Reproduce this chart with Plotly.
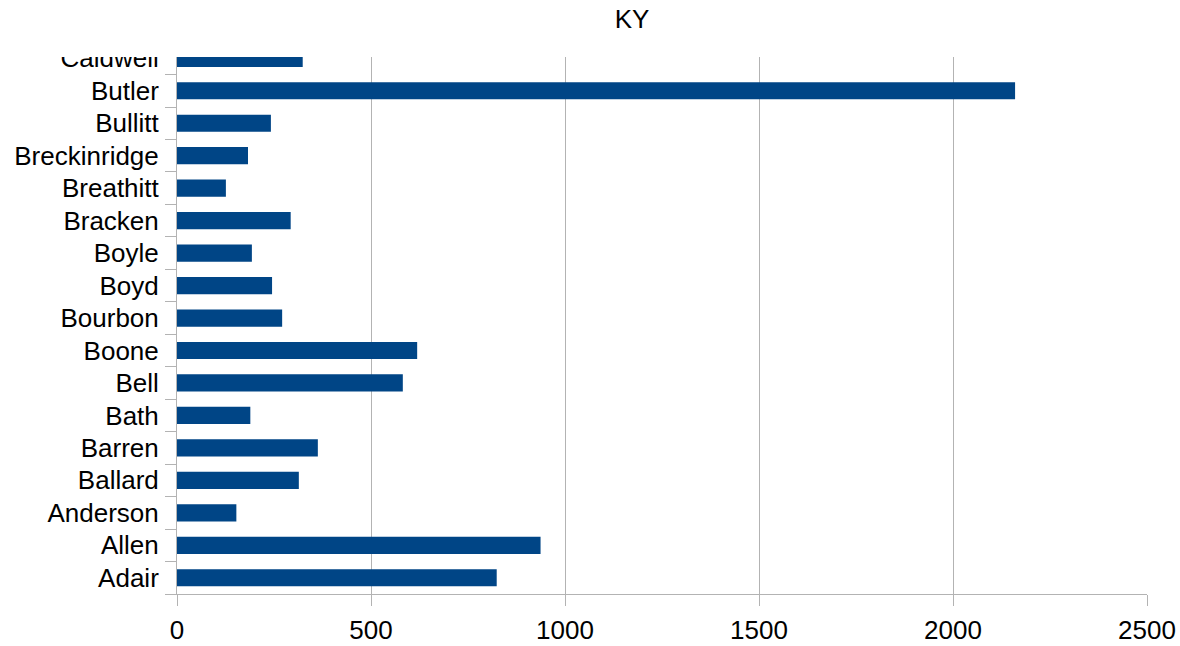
import plotly.graph_objects as go

counties = ["Adair", "Allen", "Anderson", "Ballard", "Barren", "Bath", "Bell", "Boone",
            "Bourbon", "Boyd", "Boyle", "Bracken", "Breathitt", "Breckinridge", "Bullitt",
            "Butler", "Caldwell"]
values = [824, 937, 153, 314, 363, 189, 582, 619, 271, 245, 193, 293, 126, 183, 242, 2160, 324]
x_ticks = [0, 500, 1000, 1500, 2000, 2500]

FONT = "Liberation Sans, Arial, sans-serif"
W, H = 1180, 646
# plot-area edges in screen pixels
L, R, T, B = 177, 1147, 57, 594

fig = go.Figure(go.Bar(
    x=values, y=counties, orientation="h",
    marker=dict(color="#004586", line=dict(width=0)),
    width=0.53,
))

fig.update_layout(
    width=W, height=H,
    margin=dict(l=L, r=W - R, t=T, b=H - B, pad=0, autoexpand=False),
    paper_bgcolor="white", plot_bgcolor="white",
    font=dict(family=FONT, size=26, color="#000000"),
    title=dict(text="KY", x=632 / W, xanchor="center", y=1 - 19 / H, yanchor="middle",
               xref="container", yref="container",
               font=dict(family=FONT, size=26, color="#000000")),
    showlegend=False,
    xaxis=dict(
        range=[0, 2500], tickvals=x_ticks, ticktext=[str(v) for v in x_ticks],
        showgrid=True, gridcolor="#b3b3b3", gridwidth=1,
        showline=True, linecolor="#b3b3b3", linewidth=1,
        ticks="outside", ticklen=11, tickcolor="#b3b3b3", tickwidth=1,
        zeroline=False, tickfont=dict(size=26), ticklabelstandoff=2, automargin=False,
    ),
    yaxis=dict(
        type="category", categoryorder="array", categoryarray=counties,
        range=[-0.5, 16.04],
        showgrid=False, showline=True, linecolor="#b3b3b3", linewidth=1,
        ticks="outside", ticklen=11, tickcolor="#b3b3b3", tickwidth=1,
        tickson="boundaries", tickfont=dict(size=26), ticklabelstandoff=12, automargin=False,
    ),
)

# mask the top of the first label to mimic the clipped category label
fig.add_shape(type="rect", xref="paper", yref="paper",
              x0=-0.2, x1=-0.005, y0=1.0, y1=1.0 + 20 / (B - T),
              fillcolor="white", line=dict(width=0), layer="above")

fig.write_html(
    "out.html",
    config={"displayModeBar": False},
    post_script="document.body.style.margin='0';document.body.style.padding='0';",
)
